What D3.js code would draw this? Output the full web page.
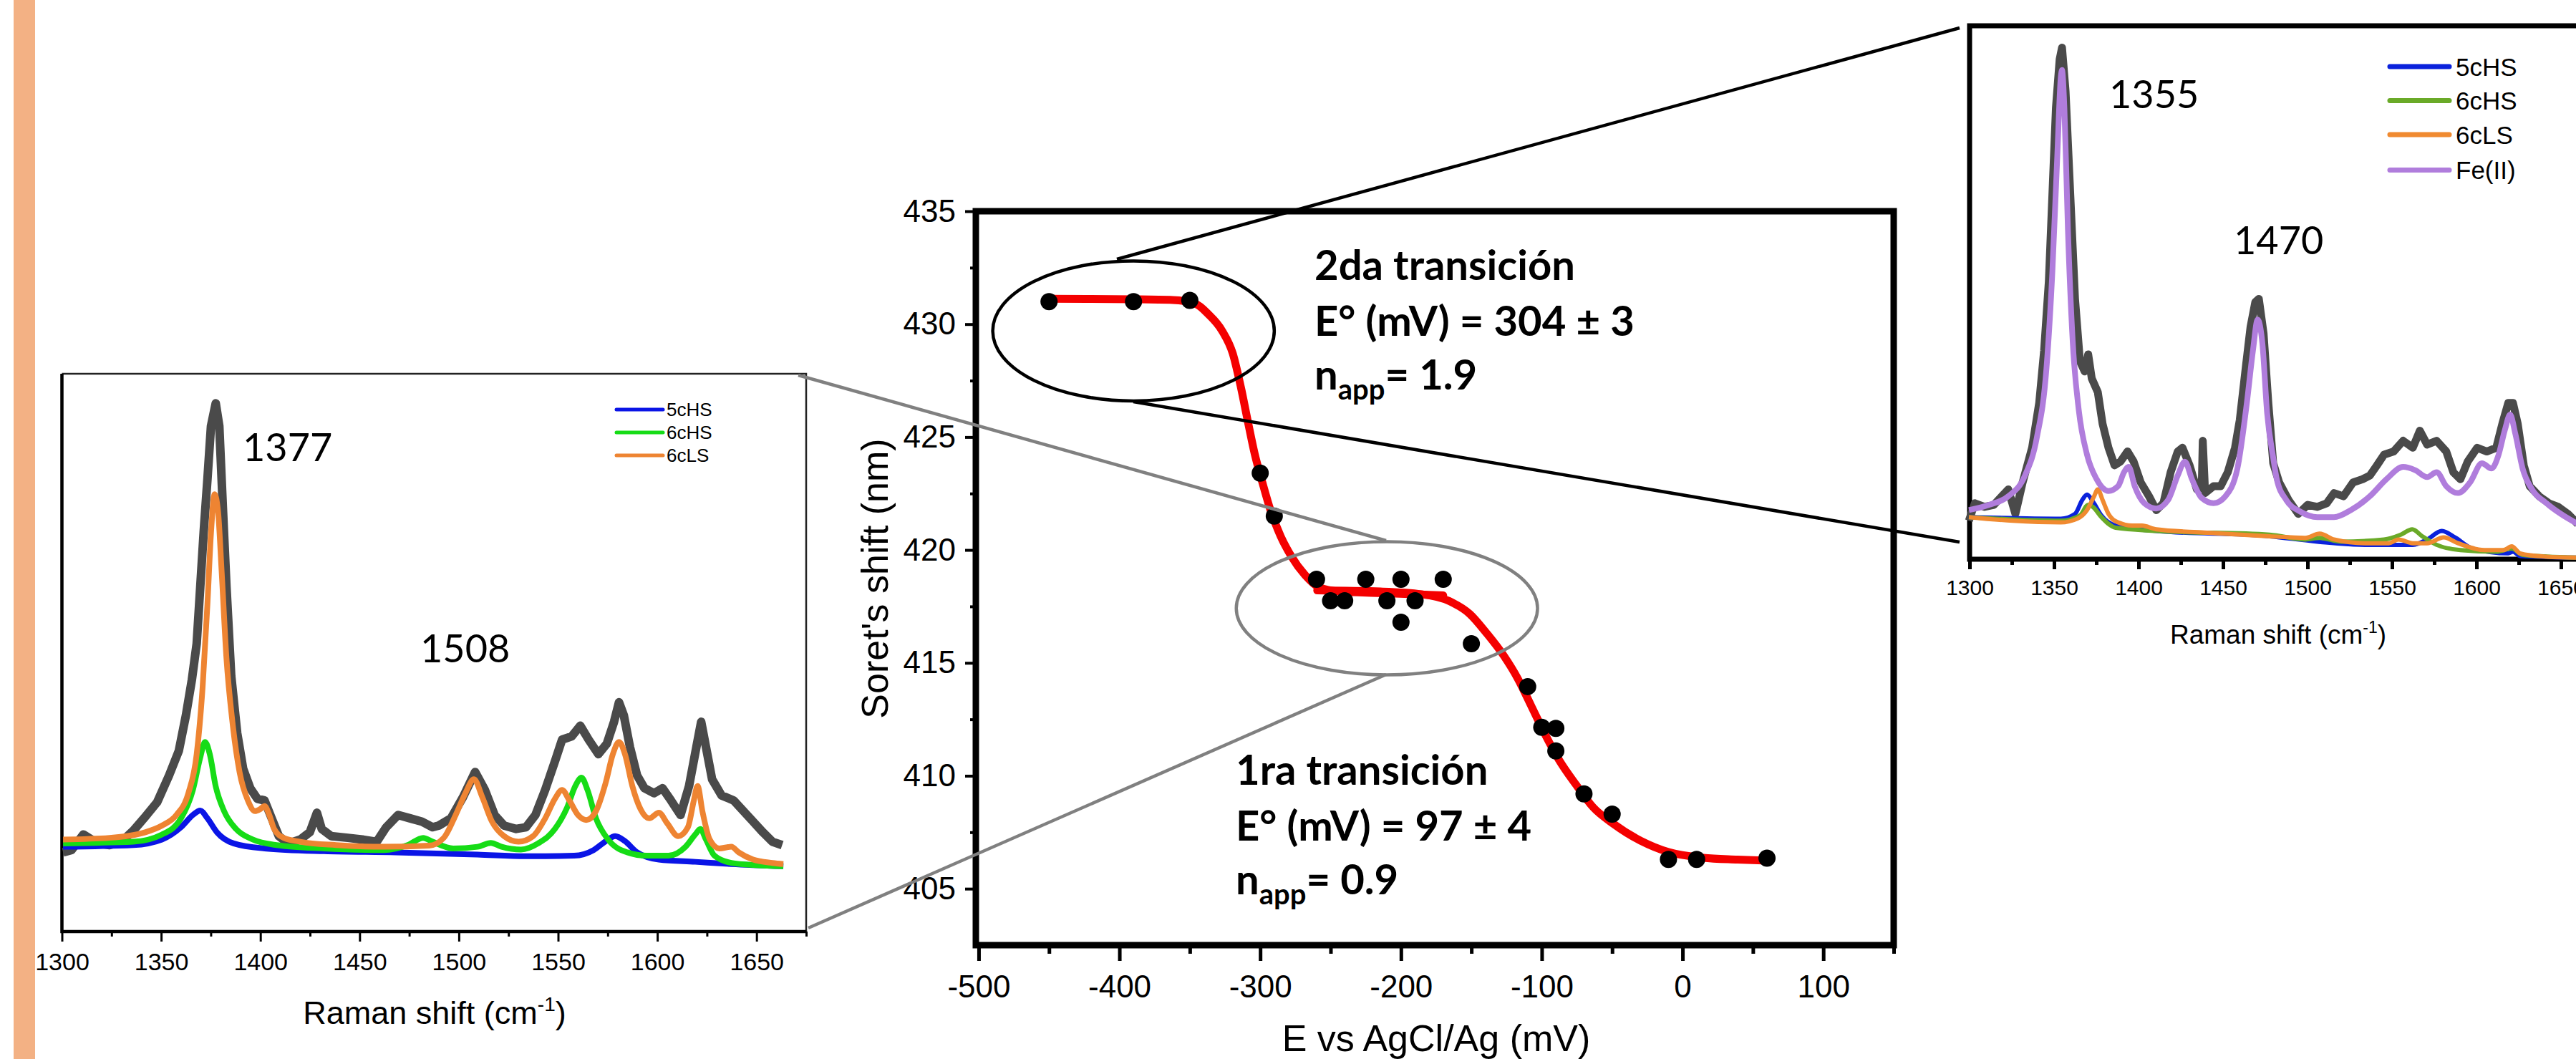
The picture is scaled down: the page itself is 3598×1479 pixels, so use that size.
<!DOCTYPE html>
<html>
<head>
<meta charset="utf-8">
<script src="https://cdnjs.cloudflare.com/ajax/libs/d3/7.8.5/d3.min.js"></script>
<style>
    body { margin: 0; background: #fff; }
    svg text { font-family: "Liberation Sans", Arial, sans-serif; fill: #000; }
    svg text.note { font-family: Lato, "Open Sans", sans-serif; }
</style>
</head>
<body>
<svg id="fig" width="3598" height="1479"></svg>
<script>
// ---- centre plot: Soret shift vs potential ----
const potential = [-450, -390, -350, -300, -290, -260, -250, -240, -225, -210, -200, -200,
    -190, -170, -150, -110, -100, -90, -90, -70, -50, -10, 10, 60];
const soret = [431.0, 431.0, 431.05, 423.4, 421.5, 418.7, 417.75, 417.75, 418.7, 417.75, 418.7, 416.8,
    417.75, 418.7, 415.85, 413.95, 412.15, 412.1, 411.1, 409.2, 408.3, 406.3, 406.3, 406.35];

// fitted curves
const fitHigh = [[-450, 431.12], [-390, 431.1], [-362, 431.07], [-346, 430.9], [-337, 430.45], [-327, 429.7],
    [-319.5, 428.7], [-313.7, 427.2], [-308.8, 425.7], [-303.9, 424.25], [-298.5, 423.0], [-292.7, 421.76],
    [-285.4, 420.6], [-278, 419.73], [-268.3, 418.9], [-258.5, 418.36], [-243.9, 418.16], [-214.6, 418.09],
    [-170, 417.99]];
const fitLow = [[-259.5, 418.21], [-214.6, 418.16], [-185.4, 418.04], [-165.9, 417.74], [-151.2, 417.17],
    [-139, 416.3], [-126.8, 415.3], [-117, 414.3], [-107.3, 413.07], [-97.6, 411.83], [-87.8, 410.71],
    [-75.6, 409.6], [-63.4, 408.6], [-48.8, 407.86], [-29.3, 407.11], [-9.8, 406.62], [14.6, 406.37],
    [39, 406.29], [61, 406.24]];

const potTicks = [-500, -400, -300, -200, -100, 0, 100];
const soretTicks = [405, 410, 415, 420, 425, 430, 435];

// ---- left inset: Raman, intensity 0..100 of the frame ----
const leftExp = [[1300.6, 14.2], [1304.8, 14.6], [1310.8, 17.4], [1318, 15.8], [1324, 15.5], [1330, 16.1],
    [1336, 18.1], [1342, 20.6], [1348, 23.2], [1354, 28], [1358.9, 32.4], [1362.5, 38.8], [1365.5, 45.2],
    [1367.9, 51.6], [1369.7, 61.8], [1371.5, 72.0], [1373.3, 81.0], [1375.1, 90.6], [1377.5, 94.7],
    [1379.3, 90.6], [1381.1, 75.9], [1382.9, 61.8], [1385.3, 45.8], [1388.3, 35.6], [1391.3, 29.2],
    [1394.9, 25.7], [1398.5, 23.8], [1402.1, 23.5], [1405.7, 20.3], [1409.3, 17.1], [1414.1, 15.8],
    [1420.1, 16.5], [1424.9, 17.8], [1428.5, 21.3], [1430.9, 18.4], [1435.7, 17.1], [1444.1, 16.8],
    [1451.4, 16.5], [1458.6, 16.1], [1463.4, 18.7], [1469.4, 20.9], [1475.4, 20.3], [1481.4, 19.7],
    [1486.8, 18.7], [1489.9, 19.0], [1496, 20.3], [1502.1, 24.1], [1508.2, 28.6], [1513.1, 25.4],
    [1518, 20.9], [1522.8, 19.0], [1528.9, 18.4], [1533.8, 18.7], [1538.6, 20.9], [1543.5, 25.4],
    [1548.4, 30.5], [1552, 34.4], [1556.9, 35.0], [1561.2, 36.9], [1565.4, 34.4], [1570.3, 31.8],
    [1574.6, 33.7], [1578.2, 37.6], [1580.7, 41.1], [1583.1, 38.8], [1586.2, 33.1], [1589.8, 28.0],
    [1593.5, 25.7], [1598.3, 24.8], [1602.6, 25.7], [1606.9, 23.5], [1611.7, 20.9], [1616, 26.1],
    [1619.7, 33.1], [1622.1, 37.6], [1624.5, 33.1], [1627.6, 27.3], [1632.4, 24.4], [1638.5, 23.5],
    [1643.4, 21.6], [1648.3, 19.7], [1653.2, 17.8], [1658, 16.1], [1662.9, 15.5]];
const left5cHS = [[1300.6, 15.2], [1336, 15.5], [1350.4, 16.5], [1360, 18.7], [1366, 20.9], [1369.7, 21.7],
    [1373.3, 20.3], [1378.1, 17.8], [1386.5, 15.8], [1402.1, 14.9], [1432.1, 14.4], [1468.2, 14.2],
    [1509.4, 13.8], [1533.8, 13.5], [1558.1, 13.6], [1567.9, 14.6], [1574, 16.2], [1578.8, 17.1],
    [1583.7, 16.2], [1589.8, 14.2], [1600.8, 12.9], [1619.1, 12.5], [1637.3, 12.1], [1663.5, 11.7]];
const left6cHS = [[1300.6, 15.8], [1336, 16.1], [1350.4, 17.4], [1360, 20.3], [1366, 25.4], [1369.7, 31.2],
    [1372.1, 34.0], [1374.5, 31.8], [1377.5, 26.0], [1381.7, 21.6], [1387.7, 18.4], [1396.1, 16.5],
    [1408.1, 15.5], [1432.1, 14.9], [1462.2, 14.6], [1474.2, 15.5], [1482, 16.8], [1486.8, 16.1],
    [1497.2, 14.9], [1509.4, 15.2], [1516.1, 15.9], [1521.6, 15.2], [1531.3, 14.7], [1539.9, 15.8],
    [1548.4, 18.4], [1554.5, 22.2], [1558.7, 26.1], [1561.8, 27.6], [1564.8, 25.4], [1569.1, 20.3],
    [1575.2, 16.5], [1584.9, 14.2], [1594.7, 13.6], [1605.6, 13.6], [1614.2, 15.2], [1619.1, 17.4],
    [1621.7, 18.4], [1624.5, 16.5], [1628.8, 13.6], [1637.3, 12.3], [1649.5, 11.9], [1663.5, 11.7]];
const left6cLS = [[1300.6, 16.5], [1324, 16.8], [1342, 17.8], [1350.4, 19.0], [1357.7, 20.9], [1363.7, 24.8],
    [1367.9, 31.8], [1370.9, 43.9], [1373.3, 58.6], [1375.1, 71.4], [1376.9, 78.4], [1378.7, 75.2],
    [1380.5, 64.4], [1382.9, 49.0], [1385.9, 37.6], [1389.5, 28.6], [1393.7, 23.5], [1397.3, 21.6],
    [1399.7, 21.9], [1402.1, 22.5], [1404.5, 20.9], [1406.9, 18.4], [1411.7, 16.8], [1420.1, 16.1],
    [1438.1, 15.5], [1462.2, 15.2], [1485, 15.4], [1492.4, 16.8], [1498.4, 20.9], [1503.3, 24.8],
    [1507.6, 27.3], [1511.8, 24.1], [1516.7, 19.7], [1522.8, 17.1], [1530.1, 16.1], [1537.4, 17.1],
    [1543.5, 20.3], [1548.4, 23.8], [1552, 25.4], [1555.7, 23.5], [1560, 20.9], [1564.2, 20.0],
    [1569.1, 21.6], [1574, 26.7], [1577.6, 31.8], [1580.7, 34.0], [1583.7, 31.8], [1587.4, 26.1],
    [1591.6, 21.9], [1595.9, 20.3], [1600.8, 21.3], [1605, 19.4], [1610.5, 17.1], [1615.4, 18.7],
    [1618.4, 23.5], [1620.3, 26.1], [1622.7, 21.6], [1626.4, 16.5], [1631.2, 14.9], [1637.3, 15.2],
    [1641, 14.2], [1648.3, 12.9], [1658, 12.3], [1663.5, 12.1]];

// ---- right inset: Raman with Fe(II) ----
const rightExp = [[1299.6, 7.2], [1303.1, 10.5], [1308.8, 9.8], [1314.4, 10.2], [1322.9, 13.1], [1327.1, 8.5],
    [1331.4, 14.4], [1337, 20.9], [1341.2, 29.3], [1344.1, 39.1], [1346.9, 52.1], [1349, 68.3],
    [1351.1, 84.6], [1353.3, 93.7], [1354.7, 95.9], [1356.8, 87.8], [1359.6, 68.3], [1362.4, 48.8],
    [1365.3, 37.1], [1368.1, 35.2], [1370.2, 38.4], [1372.3, 33.9], [1375.9, 31.3], [1378.7, 25.4],
    [1382.2, 20.9], [1385.8, 17.6], [1389.3, 18.3], [1393.5, 20.2], [1397.1, 18.3], [1401.3, 14.4],
    [1406.2, 11.8], [1410.5, 9.2], [1414.7, 10.5], [1419, 16.3], [1423.2, 20.2], [1426, 20.9],
    [1430.2, 17.6], [1434.5, 13.1], [1437.4, 13.5], [1438, 22.2], [1439.4, 12.4], [1444.4, 13.7],
    [1448.6, 13.7], [1452.8, 16.3], [1457.1, 20.9], [1459.9, 26.1], [1463.4, 35.8], [1466.3, 43.6],
    [1469.1, 48.2], [1471.2, 48.8], [1474, 42.3], [1476.8, 29.3], [1479.7, 18.0], [1483.2, 14.4],
    [1488.8, 11.1], [1494.5, 8.5], [1500.1, 10.2], [1505.8, 9.8], [1511.4, 10.5], [1515.7, 12.4],
    [1521.3, 11.8], [1527, 14.4], [1532.6, 15.0], [1536.9, 15.7], [1541.1, 17.6], [1545.3, 19.6],
    [1551, 20.2], [1556.6, 22.2], [1562.3, 20.9], [1566.5, 24.1], [1570.8, 21.5], [1576.4, 22.2],
    [1582.1, 20.2], [1586.3, 16.3], [1590.5, 15.0], [1594.8, 18.3], [1600.4, 20.9], [1606.1, 20.2],
    [1611.7, 20.9], [1615.3, 25.4], [1618.8, 29.3], [1621.6, 29.3], [1624.4, 25.4], [1628, 17.6],
    [1631.5, 13.7], [1637.1, 11.8], [1642.8, 10.5], [1648.4, 9.8], [1654.1, 8.5], [1660, 6.6]];
const rightFe = [[1299.6, 9.2], [1311.6, 10.2], [1322.9, 11.8], [1332.8, 15.7], [1339.8, 22.8], [1345.5, 35.8],
    [1349, 54.0], [1351.8, 74.8], [1354, 90.4], [1354.7, 91.7], [1356.1, 84.6], [1358.2, 61.8],
    [1361, 41.0], [1364.6, 28.0], [1369.5, 19.6], [1375.2, 15.0], [1382.2, 12.8], [1387.9, 13.7],
    [1391.4, 16.3], [1394.2, 17.3], [1397.7, 13.7], [1403.4, 10.5], [1410.5, 9.5], [1417.5, 11.1],
    [1423.2, 15.7], [1427.4, 18.3], [1431.6, 15.0], [1437.3, 11.5], [1444.4, 10.5], [1451.4, 11.8],
    [1458.5, 17.0], [1464.1, 29.3], [1467.7, 39.1], [1470.5, 44.9], [1473.3, 40.4], [1476.1, 27.4],
    [1479.7, 19.0], [1481.8, 15.0], [1487.4, 11.1], [1495.9, 8.9], [1505.8, 7.9], [1515.7, 7.9],
    [1525.6, 9.2], [1536.9, 11.8], [1546.7, 15.0], [1556.6, 17.3], [1563.7, 16.7], [1570.8, 15.4],
    [1576.4, 16.3], [1582.1, 13.7], [1589.1, 12.4], [1596.2, 14.4], [1603.2, 18.0], [1608.9, 17.0],
    [1613.1, 19.6], [1616.7, 24.1], [1619.9, 27.1], [1623, 23.5], [1627.3, 17.0], [1632.9, 13.1],
    [1641.4, 10.5], [1649.9, 8.5], [1660, 6.6]];
const right5cHS = [[1299.6, 7.9], [1354, 7.6], [1362.4, 8.5], [1366.7, 11.1], [1369.5, 12.1], [1373, 10.8],
    [1378, 8.2], [1386.4, 6.3], [1410.5, 5.3], [1477.5, 4.3], [1505.8, 3.3], [1534, 2.7], [1551, 2.7],
    [1562.3, 2.7], [1570.8, 3.7], [1579.5, 5.3], [1587.7, 4.0], [1597.6, 2.0], [1618.8, 1.1],
    [1621.6, 1.4], [1625.8, 0.6], [1660, 0.3]];
const right6cHS = [[1299.6, 7.9], [1354, 7.2], [1365.3, 8.2], [1370.2, 10.2], [1373, 9.8], [1378, 7.9],
    [1386.4, 5.9], [1410.5, 5.3], [1477.5, 4.6], [1498.7, 3.7], [1507.2, 4.0], [1519.9, 3.3],
    [1545.3, 3.7], [1555.2, 4.6], [1562, 5.6], [1567.9, 4.3], [1576.4, 2.7], [1590.5, 1.7],
    [1611.7, 1.4], [1620.9, 2.0], [1627.3, 0.8], [1660, 0.3]];
const right6cLS = [[1299.6, 7.9], [1325.7, 7.2], [1354, 6.9], [1363.8, 7.6], [1369.5, 9.2], [1373.7, 11.8],
    [1375.9, 13.1], [1378.7, 11.1], [1382.2, 8.5], [1387.9, 6.9], [1396.3, 6.3], [1402, 6.3],
    [1410.5, 5.6], [1438.7, 5.0], [1477.5, 4.3], [1498.7, 4.0], [1507.2, 4.8], [1515.7, 3.7],
    [1534, 3.0], [1548.2, 3.0], [1553.8, 3.7], [1562.3, 3.0], [1570.8, 3.0], [1580.6, 4.1],
    [1589.1, 3.0], [1604.7, 1.7], [1615.9, 1.7], [1620.9, 2.4], [1625.8, 1.1], [1640, 0.5], [1660, 0.3]];

const ramanTicks = [1300, 1350, 1400, 1450, 1500, 1550, 1600, 1650];
const ramanMinor = [1325, 1375, 1425, 1475, 1525, 1575, 1625, 1675];

const svg = d3.select("#fig");
const plain = d => String(d);   // keep the plain hyphen of the original labels

// orange side band
svg.append("rect").attr("x", 19).attr("y", 0).attr("width", 30).attr("height", 1479).attr("fill", "#f3b184");

function styleAxis(g, w) {
    g.select(".domain").remove();
    g.selectAll(".tick line").attr("stroke", "#000").attr("stroke-width", w);
}

// ================= centre plot =================
const mx = d3.scaleLinear().domain([-502, 150]).range([1363, 2645]);
const my = d3.scaleLinear().domain([402.5, 435]).range([1320, 295]);

const gx = svg.append("g").attr("transform", "translate(0,1320)")
    .call(d3.axisBottom(mx).tickValues(potTicks).tickSize(22).tickPadding(20).tickFormat(plain));
styleAxis(gx, 5);
gx.selectAll("text").attr("font-size", 44);
const gxm = svg.append("g").attr("transform", "translate(0,1320)")
    .call(d3.axisBottom(mx).tickValues(d3.range(-450, 151, 100)).tickSize(12).tickFormat(""));
styleAxis(gxm, 5);

const gy = svg.append("g").attr("transform", "translate(1363,0)")
    .call(d3.axisLeft(my).tickValues(soretTicks).tickSize(15).tickPadding(13).tickFormat(plain));
styleAxis(gy, 4);
gy.selectAll("text").attr("font-size", 44);
const gym = svg.append("g").attr("transform", "translate(1363,0)")
    .call(d3.axisLeft(my).tickValues(d3.range(407.5, 435, 5)).tickSize(8).tickFormat(""));
styleAxis(gym, 4);

svg.append("rect").attr("x", mx.range()[0]).attr("y", my.range()[1])
    .attr("width", mx.range()[1] - mx.range()[0]).attr("height", my.range()[0] - my.range()[1])
    .attr("fill", "none").attr("stroke", "#000").attr("stroke-width", 9);

svg.append("text").attr("x", 2006).attr("y", 1468).attr("text-anchor", "middle")
    .attr("font-size", 52).text("E vs AgCl/Ag (mV)");
svg.append("text").attr("transform", "translate(1240,808) rotate(-90)").attr("text-anchor", "middle")
    .attr("font-size", 52).text("Soret's shift (nm)");

const fitLine = d3.line().x(d => mx(d[0])).y(d => my(d[1])).curve(d3.curveMonotoneX);
[fitHigh, fitLow].forEach(f => {
    svg.append("path").attr("d", fitLine(f)).attr("fill", "none")
        .attr("stroke", "#f40000").attr("stroke-width", 11).attr("stroke-linecap", "round");
});

svg.append("g").selectAll("circle").data(potential).join("circle")
    .attr("cx", d => mx(d)).attr("cy", (d, i) => my(soret[i])).attr("r", 12).attr("fill", "#000");

// ellipses marking the two plateaus
svg.append("ellipse").attr("cx", mx(-390)).attr("cy", my(429.7))
    .attr("rx", mx(-290) - mx(-390)).attr("ry", my(426.6) - my(429.7))
    .attr("fill", "none").attr("stroke", "#000").attr("stroke-width", 4.5);
svg.append("ellipse").attr("cx", mx(-210)).attr("cy", my(417.42))
    .attr("rx", mx(-103) - mx(-210)).attr("ry", my(414.47) - my(417.42))
    .attr("fill", "none").attr("stroke", "#808080").attr("stroke-width", 4.5);

const notes = [
    {x: 1836, y: 391, lines: ["2da transición", "E° (mV) = 304 ± 3", "1.9"]},
    {x: 1726, y: 1096, lines: ["1ra transición", "E° (mV) = 97 ± 4", "0.9"]}
];
notes.forEach(n => {
    const t = svg.append("text").attr("class", "note").attr("font-weight", "bold").attr("font-size", 58);
    t.append("tspan").attr("x", n.x).attr("y", n.y).text(n.lines[0]);
    t.append("tspan").attr("x", n.x).attr("y", n.y + 78).text(n.lines[1]);
    t.append("tspan").attr("x", n.x).attr("y", n.y + 153).text("n");
    t.append("tspan").attr("font-size", 40).attr("dy", 14).text("app");
    t.append("tspan").attr("dy", -14).text("= " + n.lines[2]);
});

// ================= left inset =================
const lx = d3.scaleLinear().domain([1300, 1675]).range([86.5, 1126]);
const ly = d3.scaleLinear().domain([0, 100]).range([1301, 522]);

const lgx = svg.append("g").attr("transform", "translate(0,1301)")
    .call(d3.axisBottom(lx).tickValues(ramanTicks).tickSize(14).tickPadding(16).tickFormat(plain));
styleAxis(lgx, 3);
lgx.selectAll("text").attr("font-size", 34);
const lgxm = svg.append("g").attr("transform", "translate(0,1301)")
    .call(d3.axisBottom(lx).tickValues(ramanMinor).tickSize(7).tickFormat(""));
styleAxis(lgxm, 3);

svg.append("path").attr("d", `M${lx.range()[0]},${ly.range()[1]}H${lx.range()[1]}V${ly.range()[0]}`)
    .attr("fill", "none").attr("stroke", "#222").attr("stroke-width", 2.5);
svg.append("path").attr("d", `M${lx.range()[0]},${ly.range()[1]}V${ly.range()[0]}H${lx.range()[1]}`)
    .attr("fill", "none").attr("stroke", "#000").attr("stroke-width", 4.5);

const lLine = d3.line().x(d => lx(d[0])).y(d => ly(d[1]));
svg.append("path").attr("d", lLine(leftExp)).attr("fill", "none").attr("stroke", "#4a4a4a")
    .attr("stroke-width", 12).attr("stroke-linejoin", "round");
const leftSeries = [
    {name: "5cHS", data: left5cHS, color: "#0a14e6"},
    {name: "6cHS", data: left6cHS, color: "#16dc16"},
    {name: "6cLS", data: left6cLS, color: "#ee8432"}
];
const lLineS = d3.line().x(d => lx(d[0])).y(d => ly(d[1])).curve(d3.curveMonotoneX);
leftSeries.forEach(s => {
    svg.append("path").attr("d", lLineS(s.data)).attr("fill", "none").attr("stroke", s.color)
        .attr("stroke-width", 8).attr("stroke-linejoin", "round");
});
leftSeries.forEach((s, i) => {
    const yy = 572 + i * 32;
    svg.append("line").attr("x1", 861).attr("x2", 926).attr("y1", yy).attr("y2", yy)
        .attr("stroke", s.color).attr("stroke-width", 5).attr("stroke-linecap", "round");
    svg.append("text").attr("x", 931).attr("y", yy).attr("dy", "0.36em").attr("font-size", 26).text(s.name);
});
svg.append("text").attr("class", "note").attr("x", 339).attr("y", 644).attr("font-size", 54).text("1377");
svg.append("text").attr("class", "note").attr("x", 587).attr("y", 925).attr("font-size", 54).text("1508");

const lt = svg.append("text").attr("x", 607).attr("y", 1430).attr("text-anchor", "middle").attr("font-size", 45);
lt.append("tspan").text("Raman shift (cm");
lt.append("tspan").attr("font-size", 28).attr("dy", -18).text("-1");
lt.append("tspan").attr("dy", 18).text(")");

// ================= right inset =================
const rx = d3.scaleLinear().domain([1300, 1675]).range([2751, 3636]);
const ry = d3.scaleLinear().domain([0, 100]).range([781, 36]);

const rgx = svg.append("g").attr("transform", "translate(0,781)")
    .call(d3.axisBottom(rx).tickValues(ramanTicks).tickSize(14).tickPadding(15).tickFormat(plain));
styleAxis(rgx, 5);
rgx.selectAll("text").attr("font-size", 30);
const rgxm = svg.append("g").attr("transform", "translate(0,781)")
    .call(d3.axisBottom(rx).tickValues(ramanMinor).tickSize(8).tickFormat(""));
styleAxis(rgxm, 5);

svg.append("path").attr("d", `M${rx.range()[1]},${ry.range()[1]}H${rx.range()[0]}V${ry.range()[0]}H${rx.range()[1]}`)
    .attr("fill", "none").attr("stroke", "#000").attr("stroke-width", 7);

const rLine = d3.line().x(d => rx(d[0])).y(d => ry(d[1]));
const rLineS = d3.line().x(d => rx(d[0])).y(d => ry(d[1])).curve(d3.curveMonotoneX);
svg.append("path").attr("d", rLine(rightExp)).attr("fill", "none").attr("stroke", "#4a4a4a")
    .attr("stroke-width", 11).attr("stroke-linejoin", "round");
const rightSeries = [
    {name: "5cHS", data: right5cHS, color: "#0a22dc", w: 6},
    {name: "6cHS", data: right6cHS, color: "#6aaa28", w: 6},
    {name: "6cLS", data: right6cLS, color: "#f08a30", w: 6},
    {name: "Fe(II)", data: rightFe, color: "#b07ddc", w: 8}
];
rightSeries.forEach(s => {
    svg.append("path").attr("d", rLineS(s.data)).attr("fill", "none").attr("stroke", s.color)
        .attr("stroke-width", s.w).attr("stroke-linejoin", "round");
});
rightSeries.forEach((s, i) => {
    const yy = [93, 140.5, 188, 237.5][i];
    svg.append("line").attr("x1", 3338).attr("x2", 3421).attr("y1", yy).attr("y2", yy)
        .attr("stroke", s.color).attr("stroke-width", 7).attr("stroke-linecap", "round");
    svg.append("text").attr("x", 3430).attr("y", yy).attr("dy", "0.36em").attr("font-size", 35).text(s.name);
});
svg.append("text").attr("class", "note").attr("x", 2946).attr("y", 151).attr("font-size", 54).text("1355");
svg.append("text").attr("class", "note").attr("x", 3120).attr("y", 355).attr("font-size", 54).text("1470");

const rt = svg.append("text").attr("x", 3182).attr("y", 899).attr("text-anchor", "middle").attr("font-size", 37);
rt.append("tspan").text("Raman shift (cm");
rt.append("tspan").attr("font-size", 23).attr("dy", -15).text("-1");
rt.append("tspan").attr("dy", 15).text(")");

// ================= connector lines =================
const links = [
    {a: [1560, 362], b: [2737, 39], c: "#000"},
    {a: [1583, 561], b: [2737, 757], c: "#000"},
    {a: [1936, 755], b: [1115, 524], c: "#808080"},
    {a: [1936, 942], b: [1129, 1296], c: "#808080"}
];
svg.append("g").selectAll("line").data(links).join("line")
    .attr("x1", d => d.a[0]).attr("y1", d => d.a[1]).attr("x2", d => d.b[0]).attr("y2", d => d.b[1])
    .attr("stroke", d => d.c).attr("stroke-width", 4.5);
</script>
</body>
</html>
